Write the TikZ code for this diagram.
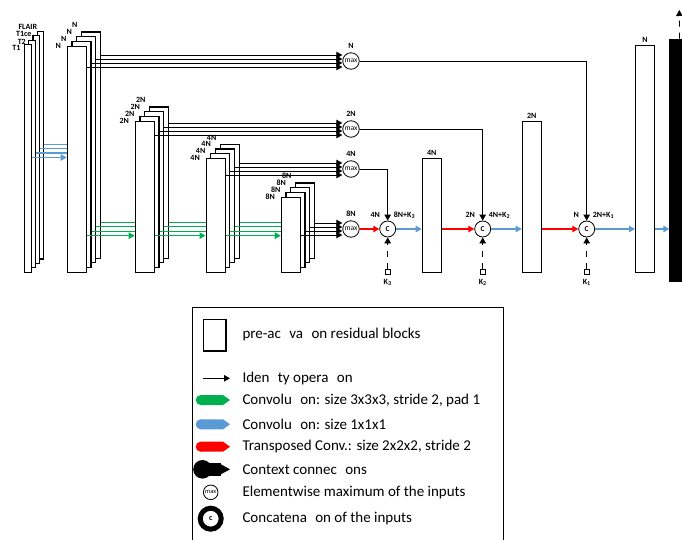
\documentclass[tikz,border=0pt]{standalone}
\usepackage{fontspec}
\setmainfont{Carlito}
\setsansfont{Carlito}
\usetikzlibrary{arrows.meta,calc}
\definecolor{convgreen}{RGB}{0,176,80}
\definecolor{convblue}{RGB}{91,155,213}
\definecolor{tconvred}{RGB}{255,0,0}
\newcommand{\tigap}{\hspace{0.56em}}

\begin{document}
\begin{tikzpicture}[x=1pt,y=-1pt,>={Triangle[length=6pt,width=6.5pt]},
    block/.style={draw,fill=white,line width=1.1pt,minimum width=19pt,inner sep=0pt,anchor=south west},
    inblock/.style={block,minimum width=6.5pt},
    lbl/.style={font=\bfseries\fontsize{8}{9}\selectfont,inner sep=0pt},
    maxnode/.style={circle,draw,fill=white,line width=0.8pt,minimum size=16.5pt,inner sep=0pt,font=\fontsize{7.5}{8}\selectfont},
    catnode/.style={circle,draw,fill=white,line width=0.8pt,minimum size=16pt,inner sep=0pt,font=\bfseries\fontsize{7.5}{8}\selectfont},
    kbox/.style={draw,fill=white,line width=0.8pt,minimum size=5.5pt,inner sep=0pt},
    ident/.style={->,line width=0.8pt},
    green line/.style={convgreen,line width=1pt},
    blue arrow/.style={->,convblue,line width=1.2pt},
    red arrow/.style={->,tconvred,line width=1.2pt},
    legtext/.style={font=\fontsize{15}{17}\selectfont,anchor=west,inner sep=0pt}]

    \useasboundingbox (0,0) rectangle (682,540);

    % input modalities
    \foreach \i in {3,2,1,0}
        \node[inblock,minimum height=227.5pt] (in\i) at ({24+4.2*\i},{272.7-4.4*\i}) {};
    \node[lbl,anchor=east] (lin0) at (20.7,47.5) {T1};
    \node[lbl,anchor=east] (lin1) at (26,41.5) {T2};
    \node[lbl,anchor=east] (lin2) at (31.7,34.3) {T1ce};
    \node[lbl,anchor=east] (lin3) at (37.3,27) {FLAIR};

    % encoder stacks
    \foreach \s/\x/\h/\lab in {1/66.7/226/N,2/134.7/151/2N,3/205.5/113.7/4N,4/280.7/75/8N}{
        \foreach \i in {3,2,1,0}{
            \node[block,minimum height=\h pt] (s\s-\i) at ({\x+4.7*\i},{272.7-4.7*\i}) {};
            \node[lbl,anchor=east] (ls\s-\i) at ($(s\s-\i.north west)+({-5.5+0.8*\i},{-2.1*\i})$) {\lab};
        }
    }

    \node[maxnode,label={[lbl,label distance=4pt]above:N}] (m1) at (351,61) {max};
    \node[maxnode,label={[lbl,label distance=4pt]above:2N}] (m2) at (351,129) {max};
    \node[maxnode,label={[lbl,label distance=4pt]above:4N}] (m3) at (351,169) {max};
    \node[maxnode,label={[lbl,label distance=4pt]above:8N}] (m4) at (351,229) {max};

    \foreach \s in {1,...,4}
        \foreach \i in {0,...,3}{
            \coordinate (p) at ($(m\s.west)+(0,{6-4*\i})$);
            \draw[ident] (s\s-\i.east |- p) -- (p);
        }

    % strided convolutions
    \foreach \s/\t in {1/2,2/3,3/4}{
        \foreach \i in {3,2,1}{
            \coordinate (q) at (0,{235.7-4.5*\i});
            \draw[green line] (s\s-\i.east |- q) -- (s\t-0.west |- q);
        }
        \coordinate (q) at (0,235.7);
        \draw[green line,->] (s\s-0.east |- q) -- (s\t-0.west |- q);
    }

    \foreach \i in {3,2,1}{
        \coordinate (q) at (0,{157.5-4.4*\i});
        \draw[convblue,line width=1.2pt] (in\i.east |- q) -- (s1-0.west |- q);
    }
    \coordinate (q) at (0,157.5);
    \draw[blue arrow] (in0.east |- q) -- (s1-0.west |- q);

    % decoder
    \node[catnode] (c1) at (387.7,229) {C};
    \node[catnode] (c2) at (482.7,229) {C};
    \node[catnode] (c3) at (586.7,229) {C};
    \node[lbl,anchor=east] (lc1a) at ($(c1)+(-7.5,-14)$) {4N};
    \node[lbl,anchor=west] (lc1b) at ($(c1)+(6,-14)$) {8N+K\textsubscript{3}};
    \node[lbl,anchor=east] (lc2a) at ($(c2)+(-7.5,-14)$) {2N};
    \node[lbl,anchor=west] (lc2b) at ($(c2)+(6,-14)$) {4N+K\textsubscript{2}};
    \node[lbl,anchor=east] (lc3a) at ($(c3)+(-7.5,-14)$) {N};
    \node[lbl,anchor=west] (lc3b) at ($(c3)+(6,-14)$) {2N+K\textsubscript{1}};

    \node[kbox,label={[lbl,label distance=4pt]below:K\textsubscript{3}}] (k1) at (387.7,271.7) {};
    \node[kbox,label={[lbl,label distance=4pt]below:K\textsubscript{2}}] (k2) at (482.7,271.7) {};
    \node[kbox,label={[lbl,label distance=4pt]below:K\textsubscript{1}}] (k3) at (586.7,271.7) {};
    \draw[->,line width=0.8pt,dash pattern=on 6pt off 6pt] (k1) -- (c1);
    \draw[->,line width=0.8pt,dash pattern=on 6pt off 6pt] (k2) -- (c2);
    \draw[->,line width=0.8pt,dash pattern=on 6pt off 6pt] (k3) -- (c3);

    \node[block,minimum height=113.7pt,label={[lbl,label distance=2pt]above:4N}] (d3) at (421.7,272.7) {};
    \node[block,minimum height=151pt,label={[lbl,label distance=2pt]above:2N}] (d2) at (521.7,272.7) {};
    \node[block,minimum height=227pt,label={[lbl,label distance=2pt]above:N}] (d1) at (635,272.7) {};
    \node[draw,fill=black,minimum width=20pt,minimum height=242pt,inner sep=0pt,anchor=south west] (out) at (669.3,281) {};
    \coordinate (top) at (679.3,10);

    \draw[red arrow] (m4) -- (c1);
    \draw[ident] (m3) -| (c1);
    \draw[blue arrow] (c1) -- (d3.west |- c1);
    \draw[red arrow] (d3.east |- c2) -- (c2);
    \draw[ident] (m2) -| (c2);
    \draw[blue arrow] (c2) -- (d2.west |- c2);
    \draw[red arrow] (d2.east |- c3) -- (c3);
    \draw[ident] (m1) -| (c3);
    \draw[blue arrow] (c3) -- (d1.west |- c3);
    \draw[blue arrow] (d1.east |- c3) -- (out.west |- c3);
    \draw[->,line width=0.8pt,dash pattern=on 6pt off 6pt] (out.north) -- (top);

    % legend
    \draw[line width=1pt] (192,307.3) rectangle (503.3,545);
    \node[draw,line width=1.3pt,minimum width=22.7pt,minimum height=31.7pt] (lg1) at (214.7,335.2) {};
    \coordinate (la) at (202.7,378.3);
    \coordinate (lb) at (230,378.3);
    \draw[->,line width=1pt] (la) -- (lb);
    \fill[convgreen] (200.7,400) circle[radius=5];
    \fill[convgreen] (200.7,395) -- (223,395) -- (230,400) -- (223,405) -- (200.7,405) -- cycle;
    \fill[convblue] (200.7,424.3) circle[radius=5];
    \fill[convblue] (200.7,419.3) -- (223,419.3) -- (230,424.3) -- (223,429.3) -- (200.7,429.3) -- cycle;
    \fill[tconvred] (200.7,446.7) circle[radius=5];
    \fill[tconvred] (200.7,441.7) -- (223,441.7) -- (230,446.7) -- (223,451.7) -- (200.7,451.7) -- cycle;
    \fill (202.5,469.3) circle[radius=9.3];
    \fill (202.5,462.8) rectangle (221,475.8);
    \fill (220,463.8) -- (230,469.3) -- (220,474.8) -- cycle;
    \node[maxnode,minimum size=14.6pt,font=\fontsize{6.5}{7}\selectfont] (lmax) at (210.7,492.3) {max};
    \node[circle,draw,line width=5pt,minimum size=21pt,inner sep=0pt,font=\bfseries\fontsize{8}{9}\selectfont] (lcat) at (210.7,518.7) {c};

    \node[legtext] (t1) at (242.3,334.3) {pre-ac\tigap va\tigap on residual blocks};
    \node[legtext] (t2) at (242.3,378.3) {Iden\tigap ty opera\tigap on};
    \node[legtext] (t3) at (242.3,400) {Convolu\tigap on: size 3x3x3, stride 2, pad 1};
    \node[legtext] (t4) at (242.3,424.3) {Convolu\tigap on: size 1x1x1};
    \node[legtext] (t5) at (242.3,446.7) {Transposed Conv.: size 2x2x2, stride 2};
    \node[legtext] (t6) at (242.3,469.3) {Context connec\tigap ons};
    \node[legtext] (t7) at (242.3,492.3) {Elementwise maximum of the inputs};
    \node[legtext] (t8) at (242.3,518.7) {Concatena\tigap on of the inputs};
\end{tikzpicture}
\end{document}
